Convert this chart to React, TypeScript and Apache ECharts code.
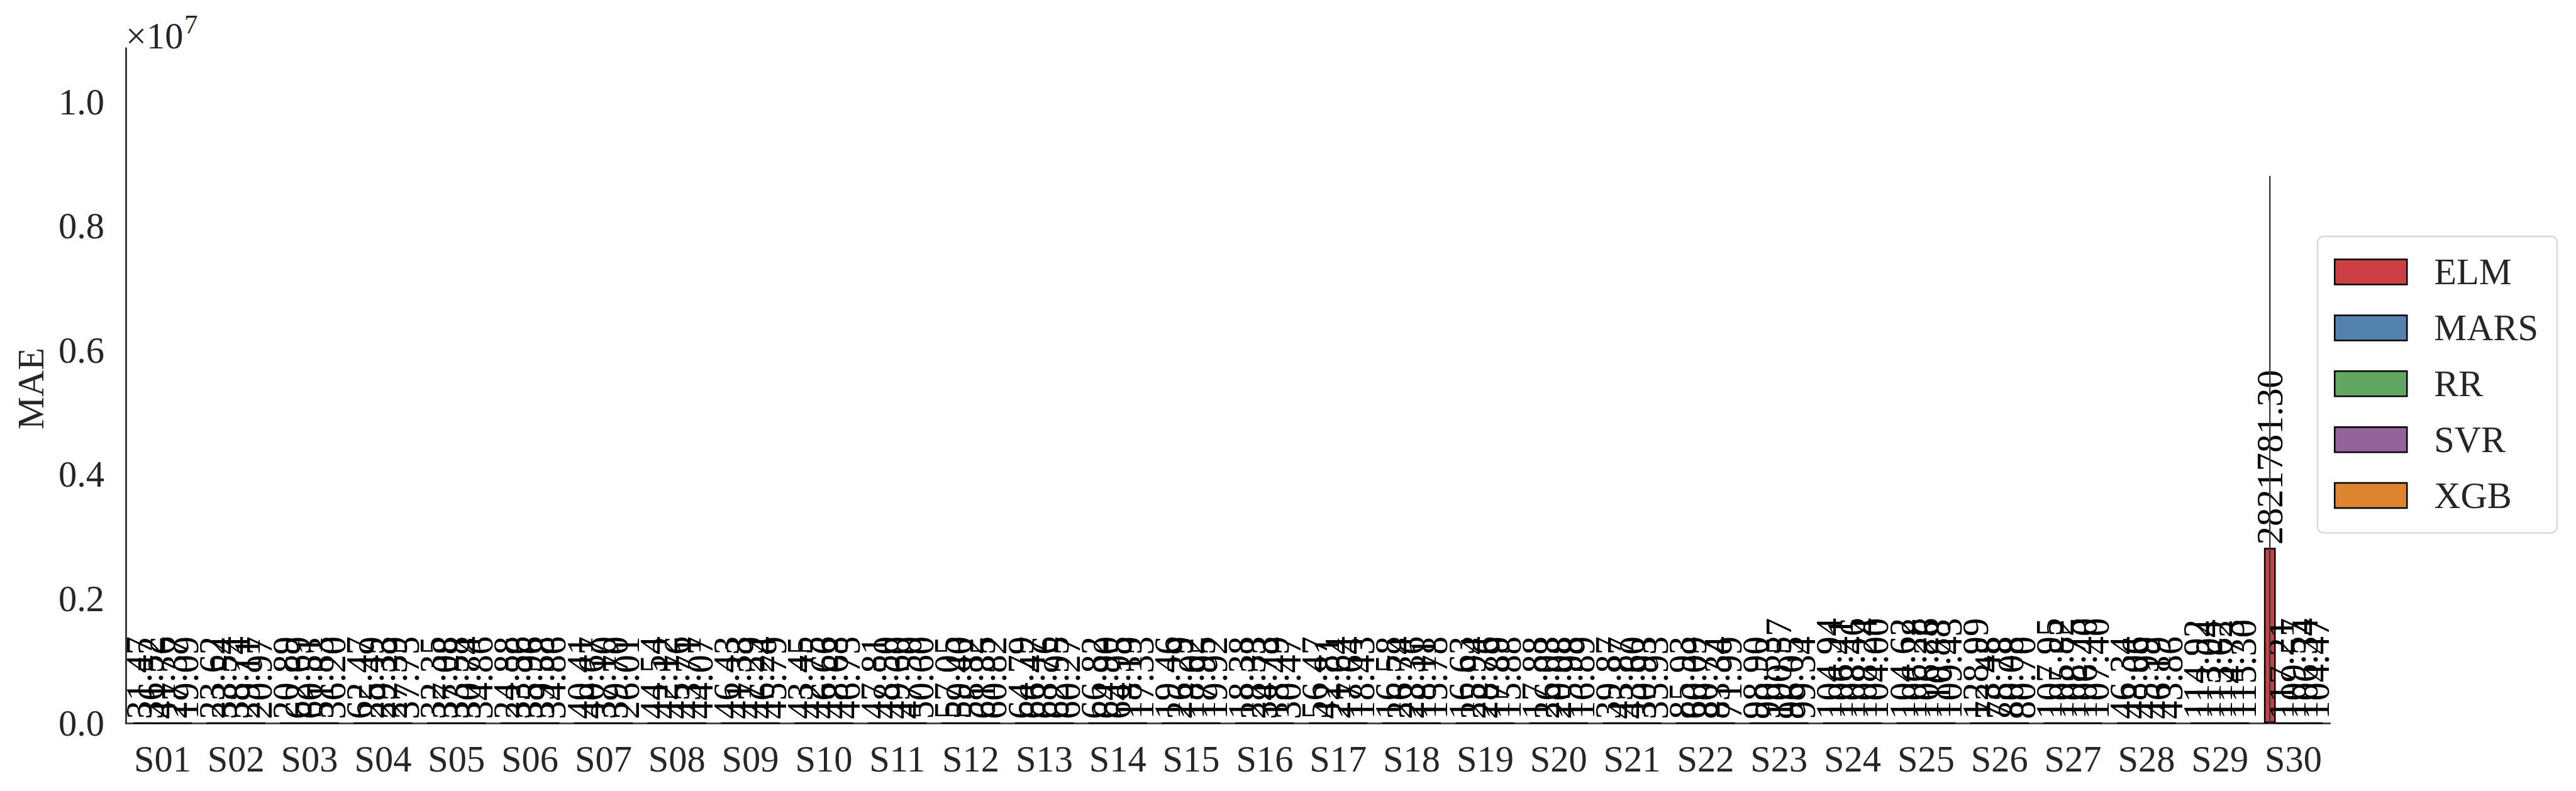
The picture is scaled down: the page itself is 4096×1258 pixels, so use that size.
import React, { useEffect, useRef } from "react";
import * as echarts from "echarts";

const sites = [
  "S01", "S02", "S03", "S04", "S05", "S06", "S07", "S08", "S09", "S10",
  "S11", "S12", "S13", "S14", "S15", "S16", "S17", "S18", "S19", "S20",
  "S21", "S22", "S23", "S24", "S25", "S26", "S27", "S28", "S29", "S30",
];
const models = ["ELM", "MARS", "RR", "SVR", "XGB"];
const modelColors = ["#CC3F44", "#5282AD", "#61A761", "#93629B", "#DD842E"];

const elm = [31.47, 23.62, 20.89, 62.47, 32.35, 24.88, 40.41, 44.54, 46.43, 43.45, 47.81, 57.05, 64.79, 66.82, 19.46, 18.38, 56.47, 16.58, 16.63, 17.88, 39.87, 85.93, 98.9, 104.94, 104.62, 128.99, 107.95, 46.34, 114.92, 2821781.3];
const mars = [36.52, 33.54, 62.69, 25.49, 37.08, 33.56, 40.67, 42.12, 41.33, 42.75, 48.5, 59.4, 66.47, 64.9, 26.29, 28.33, 42.81, 26.74, 25.94, 26.03, 43.87, 60.09, 90.53, 106.41, 106.28, 73.48, 105.82, 48.06, 113.04, 117.21];
const rr = [41.76, 38.74, 60.51, 29.33, 33.58, 35.96, 37.1, 45.76, 47.29, 46.66, 49.6, 58.82, 68.76, 64.95, 18.02, 34.73, 21.64, 23.36, 28.76, 20.08, 43.6, 80.77, 100.57, 108.46, 106.26, 78.78, 108.75, 45.99, 113.62, 109.57];
const svr = [27.37, 29.11, 51.83, 27.39, 30.74, 39.58, 39.7, 43.71, 46.24, 48.68, 47.5, 61.35, 62.95, 18.19, 17.95, 18.49, 17.64, 18.11, 17.89, 15.98, 30.93, 83.34, 96.05, 108.24, 110.88, 80.08, 106.4, 46.19, 114.73, 106.34];
const xgb = [19.09, 20.97, 36.2, 37.75, 34.86, 34.86, 26.01, 44.07, 45.79, 46.75, 50.6, 60.82, 60.27, 17.33, 19.92, 30.47, 18.43, 15.78, 15.88, 16.89, 35.93, 71.99, 99.34, 104.0, 109.43, 80.7, 107.4, 43.86, 115.3, 104.47];
const seriesValues = [elm, mars, rr, svr, xgb];

// error bar (standard deviation) shown on the ELM bar at S30
const errSites = ["S30"];
const errModels = ["ELM"];
const errStd = [5988000];

const yTicks = [0, 2000000, 4000000, 6000000, 8000000, 10000000];

const FONT = "'Liberation Serif', 'Times New Roman', 'DejaVu Serif', serif";
const FS = 58.5;
const INK = "#262626";

export default function App() {
  const ref = useRef<HTMLDivElement>(null);
  useEffect(() => {
    if (!ref.current) return;
    const chart = echarts.init(ref.current, null, { renderer: "svg" });

    const barSeries = models.map((m, k) => ({
      name: m,
      type: "bar",
      data: seriesValues[k],
      barGap: "0%",
      barCategoryGap: "20%",
      itemStyle: { color: modelColors[k], borderColor: "#000", borderWidth: 2.5 },
      label: {
        show: true,
        position: "top",
        rotate: 90,
        align: "left",
        verticalAlign: "middle",
        distance: 5,
        fontSize: FS,
        fontFamily: FONT,
        color: "#000",
        formatter: (p: any) => Number(p.value).toFixed(2),
      },
      z: 2,
    }));

    const errData = errSites.map((s, i) => {
      const c = sites.indexOf(s);
      const k = models.indexOf(errModels[i]);
      const v = seriesValues[k][c];
      return [c, v - errStd[i], v + errStd[i], k];
    });

    const option: any = {
      animation: false,
      backgroundColor: "#fff",
      grid: { left: 200, right: 391, top: 76.5, bottom: 108, containLabel: false },
      legend: {
        data: models,
        orient: "vertical",
        left: 3685,
        top: 376,
        padding: [27, 30, 30, 26],
        itemWidth: 115,
        itemHeight: 40,
        itemGap: 29.9,
        icon: "rect",
        backgroundColor: "#fff",
        borderColor: "#d9d9d9",
        borderWidth: 2.5,
        borderRadius: 10,
        itemStyle: { borderColor: "#000", borderWidth: 2.5 },
        textStyle: {
          fontSize: FS,
          fontFamily: FONT,
          color: INK,
          padding: [0, 0, 0, 38],
        },
        z: 10,
      },
      xAxis: {
        type: "category",
        data: sites,
        axisLine: { show: true, lineStyle: { color: INK, width: 2.7 } },
        axisTick: { show: false },
        axisLabel: { fontSize: FS, fontFamily: FONT, color: INK, margin: 28, interval: 0 },
        splitLine: { show: false },
      },
      yAxis: {
        type: "value",
        min: 0,
        max: 10866000,
        interval: 2000000,
        axisLine: { show: true, lineStyle: { color: INK, width: 2.7 } },
        axisTick: { show: false },
        splitLine: { show: false },
        axisLabel: {
          fontSize: FS,
          fontFamily: FONT,
          color: INK,
          margin: 34,
          showMaxLabel: false,
          formatter: (v: number) => (yTicks.includes(v) ? (v / 1e7).toFixed(1) : ""),
        },
      },
      graphic: [
        {
          type: "text",
          x: 49,
          y: 618,
          rotation: Math.PI / 2,
          style: { text: "MAE", font: `${FS}px ${FONT}`, fill: INK, textAlign: "center", textVerticalAlign: "middle" },
        },
        {
          type: "text",
          x: 200,
          y: 57.7,
          style: { text: "×10", font: `${FS}px ${FONT}`, fill: INK, textAlign: "left", textVerticalAlign: "middle" },
        },
        {
          type: "text",
          x: 293,
          y: 38,
          style: { text: "7", font: `43px ${FONT}`, fill: INK, textAlign: "left", textVerticalAlign: "middle" },
        },
      ],
      series: [
        ...barSeries,
        {
          type: "custom",
          name: "err",
          data: errData,
          z: 5,
          clip: true,
          renderItem: (params: any, api: any) => {
            const c = api.value(0);
            const lo = api.value(1);
            const hi = api.value(2);
            const k = api.value(3);
            const band = api.size([1, 0])[0];
            const off = (k - 2) * band * 0.16;
            const p1 = api.coord([c, Math.max(lo, 0)]);
            const p2 = api.coord([c, hi]);
            return {
              type: "line",
              shape: { x1: p1[0] + off, y1: p1[1], x2: p2[0] + off, y2: p2[1] },
              style: { stroke: "#3a3a3a", lineWidth: 2.4 },
            };
          },
        },
      ],
    };
    chart.setOption(option);
    return () => chart.dispose();
  }, []);
  return (
    <div
      ref={ref}
      style={{ position: "absolute", left: 0, top: 0, width: "4096px", height: "1258px", background: "#fff" }}
    />
  );
}
